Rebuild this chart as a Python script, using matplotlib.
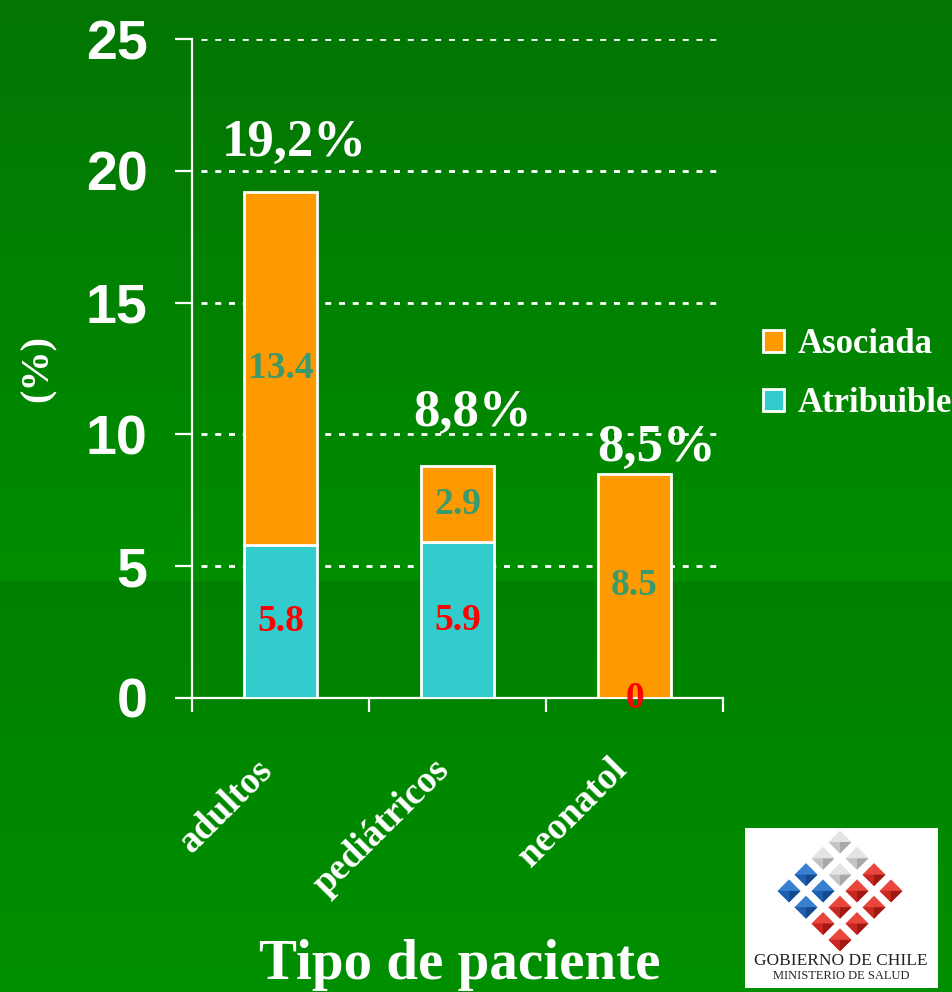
import numpy as np
import matplotlib
matplotlib.use("Agg")
import matplotlib.pyplot as plt
from matplotlib.patches import Polygon, Rectangle
from matplotlib.ticker import FixedLocator

# ---------------- data ----------------
categories = ["adultos", "pediátricos", "neonatol"]
atribuible = [5.8, 5.9, 0]
asociada = [13.4, 2.9, 8.5]
total_labels = ["19,2%", "8,8%", "8,5%"]
yticks = [0, 5, 10, 15, 20, 25]
series_names = ["Asociada", "Atribuible"]

C_ASO = "#FF9900"
C_ATR = "#33CCCC"
SERIF = "Liberation Serif"
SANS = "Liberation Sans"

W, H = 952, 992
fig = plt.figure(figsize=(W / 100, H / 100), dpi=100)

# ---------------- background gradient ----------------
bg = fig.add_axes([0, 0, 1, 1], zorder=-10)
def hexrgb(h):
    h = h.lstrip("#")
    return np.array([int(h[i:i + 2], 16) for i in (0, 2, 4)]) / 255.0
top_a, top_b = hexrgb("#037503"), hexrgb("#008e00")
bot_a, bot_b = hexrgb("#008000"), hexrgb("#009000")
img = np.zeros((H, 1, 3))
for r in range(H):
    if r < 581:
        t = r / 580
        img[r, 0] = top_a * (1 - t) + top_b * t
    else:
        t = (r - 581) / (H - 581)
        img[r, 0] = bot_a * (1 - t) + bot_b * t
bg.imshow(img, aspect="auto", extent=[0, 1, 0, 1], origin="upper")
bg.axis("off")

# ---------------- main axes ----------------
ax = fig.add_axes([192 / W, 1 - 698 / H, (723 - 192) / W, (698 - 39) / H])
ax.set_facecolor("none")
x = np.arange(len(categories)) + 0.5
bw = 0.41
ax.bar(x, atribuible, bw, color=C_ATR, edgecolor="white", linewidth=2, zorder=3,
       label=series_names[1])
ax.bar(x, asociada, bw, bottom=atribuible, color=C_ASO, edgecolor="white", linewidth=2,
       zorder=3, label=series_names[0])

ax.set_xlim(0, 3)
ax.set_ylim(0, 25)
ax.set_yticks(yticks)
ax.set_yticklabels([str(v) for v in yticks], fontfamily=SANS, fontweight="bold",
                   fontsize=40, color="white")
ax.xaxis.set_major_locator(FixedLocator([0, 1, 2, 3]))
ax.set_xticklabels([])
ax.tick_params(axis="x", which="major", length=10, width=1.6, color="white", direction="out")
ax.tick_params(axis="y", length=12, width=1.6, color="white", direction="out", pad=20)

# category labels (rotated)
for i, c in enumerate(categories):
    ax.annotate(c, (x[i], 0), xytext=(-9.5, -48), textcoords="offset points",
                rotation=45, rotation_mode="anchor", ha="right", va="center",
                fontfamily=SERIF, fontweight="bold", fontsize=27, color="white",
                annotation_clip=False)

for s in ["top", "right"]:
    ax.spines[s].set_visible(False)
for s in ["left", "bottom"]:
    ax.spines[s].set_color("white")
    ax.spines[s].set_linewidth(1.6)

for yv in yticks[1:]:
    ax.plot([0.05, 2.97], [yv, yv], color="white", lw=2.0, ls=(0, (2.15, 2.8)), zorder=1,
            solid_capstyle="butt", dash_capstyle="butt")

# segment labels
for i in range(len(categories)):
    ax.text(x[i], asociada[i] / 2 + atribuible[i], f"{asociada[i]}", ha="center", va="center",
            fontfamily=SERIF, fontweight="bold", fontsize=27, color="#3a9a6c", zorder=5)
    ax.text(x[i], atribuible[i] / 2, f"{atribuible[i]:g}", ha="center", va="center",
            fontfamily=SERIF, fontweight="bold", fontsize=27, color="#ff0000", zorder=5)

# totals
offs = [(10, 35), (11, 38), (16, 19)]
for i in range(len(categories)):
    top = atribuible[i] + asociada[i]
    ax.annotate(total_labels[i], (x[i], top), xytext=offs[i], textcoords="offset points",
                ha="center", va="center", fontfamily=SERIF, fontweight="bold", fontsize=38,
                color="white", annotation_clip=False, zorder=6)

fig.text(38 / W, 1 - 368 / H, "(%)", rotation=90, ha="center", va="center",
         fontfamily=SERIF, fontweight="bold", fontsize=29, color="white")
fig.text(460 / W, 1 - 979 / H, "Tipo de paciente", ha="center", va="baseline",
         fontfamily=SERIF, fontweight="bold", fontsize=41, color="white")

# legend
h, l = ax.get_legend_handles_labels()
leg = fig.legend(h[::-1], l[::-1], loc="center left", bbox_to_anchor=(763 / W, 1 - 374 / H),
                 frameon=False, borderpad=0, borderaxespad=0, handlelength=0.6,
                 handleheight=0.6, handletextpad=0.4, labelspacing=0.75,
                 prop={"family": SERIF, "weight": "bold", "size": 25})
for t in leg.get_texts():
    t.set_color("white")

# ---------------- logo ----------------
lx0, ly0, lx1, ly1 = 745, 828, 938, 988
lg = fig.add_axes([lx0 / W, 1 - ly1 / H, (lx1 - lx0) / W, (ly1 - ly0) / H])
lg.set_xlim(0, lx1 - lx0)
lg.set_ylim(ly1 - ly0, 0)
lg.axis("off")
lg.add_patch(Rectangle((0, 0), lx1 - lx0, ly1 - ly0, facecolor="white", edgecolor="none"))
s = 11.5
for i in range(4):
    for j in range(4):
        cx = 95 + 17 * (i - j)
        cy = 14 + 16.3 * (i + j)
        if i <= 1 and j <= 1:
            c1, c2, c3 = "#e4e4e4", "#c4c4c4", "#a8a8a8"
        elif i <= 1:
            c1, c2, c3 = "#3a80d0", "#1f5fb0", "#134a90"
        else:
            c1, c2, c3 = "#e8463c", "#c82820", "#a01812"
        lg.add_patch(Polygon([(cx, cy - s), (cx + s, cy), (cx, cy + s), (cx - s, cy)],
                             closed=True, facecolor=c1, edgecolor="none"))
        lg.add_patch(Polygon([(cx, cy), (cx + s, cy), (cx, cy + s)], closed=True,
                             facecolor=c3, edgecolor="none"))
        lg.add_patch(Polygon([(cx, cy), (cx - s, cy), (cx, cy + s)], closed=True,
                             facecolor=c2, edgecolor="none"))
lg.text(96, 133, "GOBIERNO DE CHILE", ha="center", va="center", fontfamily=SERIF,
        fontsize=12.5, color="#222222")
lg.text(96, 148, "MINISTERIO DE SALUD", ha="center", va="center", fontfamily=SERIF,
        fontsize=9, color="#222222")

fig.savefig("out.png", dpi=100)
